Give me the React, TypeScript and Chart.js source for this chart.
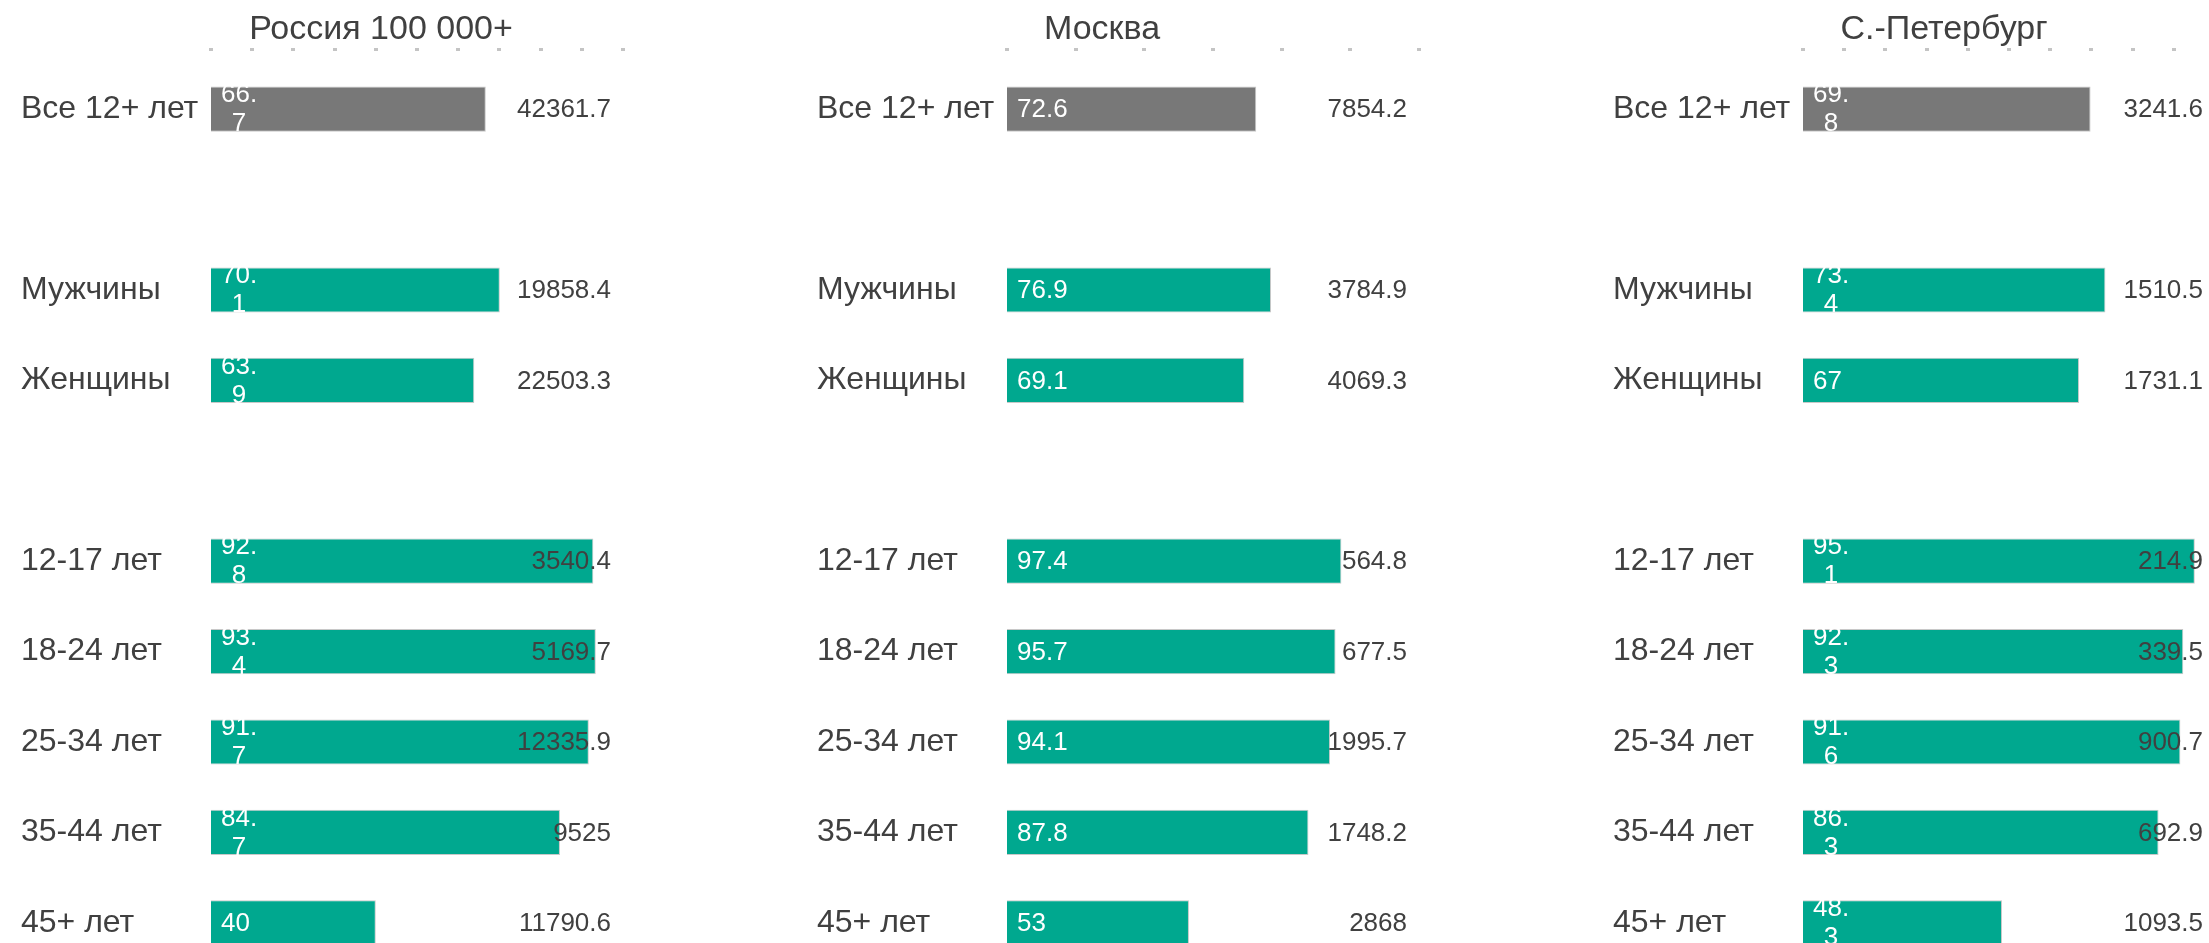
import React, { useEffect, useRef } from "react";
import { Chart, registerables } from "chart.js";

Chart.register(...registerables);

const categories = [
  "Все 12+ лет",
  "",
  "Мужчины",
  "Женщины",
  "",
  "12-17 лет",
  "18-24 лет",
  "25-34 лет",
  "35-44 лет",
  "45+ лет",
];

const panelTitles = ["Россия 100 000+", "Москва", "С.-Петербург"];

const russiaShare = [66.7, null, 70.1, 63.9, null, 92.8, 93.4, 91.7, 84.7, 40];
const russiaVolume = [42361.7, null, 19858.4, 22503.3, null, 3540.4, 5169.7, 12335.9, 9525, 11790.6];

const moscowShare = [72.6, null, 76.9, 69.1, null, 97.4, 95.7, 94.1, 87.8, 53];
const moscowVolume = [7854.2, null, 3784.9, 4069.3, null, 564.8, 677.5, 1995.7, 1748.2, 2868];

const spbShare = [69.8, null, 73.4, 67, null, 95.1, 92.3, 91.6, 86.3, 48.3];
const spbVolume = [3241.6, null, 1510.5, 1731.1, null, 214.9, 339.5, 900.7, 692.9, 1093.5];

const axisMax = [100, 120, 100];
const axisStep = [10, 20, 10];

const TEXT = "#404040";
const GRAY = "#787878";
const TEAL = "#00A88F";
const FONT = '"Liberation Sans", Arial, sans-serif';

const PANEL_W = 796;
const CANVAS_H = 1000;

type PanelProps = {
  title: string;
  share: (number | null)[];
  volume: (number | null)[];
  max: number;
  step: number;
  wrapWidth: number;
  titleX: number;
  left: number;
};

const labelPlugin = {
  id: "panelLabels",
  afterDatasetsDraw(chart: any, _args: any, opts: any) {
    const ctx = chart.ctx as CanvasRenderingContext2D;
    const xs = chart.scales.x;
    const { top, right } = chart.chartArea;
    ctx.save();
    // axis tick dots
    ctx.fillStyle = "#c4c4c4";
    for (let v = 0; v <= opts.max + 1e-9; v += opts.step) {
      const px = xs.getPixelForValue(v);
      ctx.fillRect(Math.round(px) - 2, top - 16, 4, 3);
    }
    // title
    ctx.font = `34px ${FONT}`;
    ctx.fillStyle = TEXT;
    ctx.textAlign = "center";
    ctx.textBaseline = "middle";
    ctx.fillText(opts.title, opts.titleX, 30);

    const meta = chart.getDatasetMeta(0);
    const x0 = xs.getPixelForValue(0);
    meta.data.forEach((bar: any, i: number) => {
      const s = opts.share[i];
      const vol = opts.volume[i];
      if (s == null) return;
      const cy = bar.y;
      // volume label on the right
      ctx.font = `26px ${FONT}`;
      ctx.fillStyle = TEXT;
      ctx.textAlign = "right";
      ctx.textBaseline = "middle";
      if (vol != null) ctx.fillText(String(vol), right - 12, cy + 1);
      // share label inside bar
      ctx.fillStyle = "#ffffff";
      const text = String(s);
      const bx = x0 + 10;
      if (ctx.measureText(text).width <= opts.wrapWidth) {
        ctx.textAlign = "left";
        ctx.fillText(text, bx, cy + 1);
      } else {
        let k = text.length - 1;
        while (k > 1 && ctx.measureText(text.slice(0, k)).width > opts.wrapWidth) k--;
        const lines = [text.slice(0, k), text.slice(k)];
        const bw = Math.max(...lines.map((l) => ctx.measureText(l).width));
        const cx = bx + bw / 2;
        ctx.textAlign = "center";
        ctx.fillText(lines[0], cx, cy - 14);
        ctx.fillText(lines[1], cx, cy + 15);
      }
    });
    ctx.restore();
  },
};

function Panel(p: PanelProps) {
  const ref = useRef<HTMLCanvasElement | null>(null);
  useEffect(() => {
    if (!ref.current) return;
    const colors = categories.map((_, i) => (i === 0 ? GRAY : TEAL));
    const chart = new Chart(ref.current, {
      type: "bar",
      data: {
        labels: categories,
        datasets: [
          {
            data: p.share as any,
            backgroundColor: colors,
            borderColor: "#c8c8c8",
            borderWidth: 1,
            barPercentage: 0.5,
            categoryPercentage: 1,
          },
        ],
      },
      options: {
        indexAxis: "y",
        responsive: false,
        animation: false,
        layout: {
          padding: { left: 21, top: 64, right: PANEL_W - 623, bottom: CANVAS_H - 968 },
        },
        plugins: {
          legend: { display: false },
          tooltip: { enabled: false },
          title: { display: false },
          panelLabels: {
            title: p.title,
            share: p.share,
            volume: p.volume,
            max: p.max,
            step: p.step,
            wrapWidth: p.wrapWidth,
            titleX: p.titleX,
          },
        } as any,
        scales: {
          x: {
            display: false,
            min: 0,
            max: p.max,
          },
          y: {
            grid: { display: false },
            border: { display: false },
            afterFit: (scale: any) => {
              scale.width = 190;
            },
            ticks: {
              crossAlign: "far",
              padding: 0,
              autoSkip: false,
              color: TEXT,
              font: { family: FONT, size: 32 },
            },
          },
        },
      },
      plugins: [labelPlugin],
    });
    return () => chart.destroy();
  }, []);
  return (
    <canvas
      ref={ref}
      width={PANEL_W}
      height={CANVAS_H}
      style={{ position: "absolute", left: p.left, top: 0, width: PANEL_W, height: CANVAS_H }}
    />
  );
}

export default function App() {
  return (
    <div
      style={{
        position: "absolute",
        left: 0,
        top: 0,
        width: 2209,
        height: 943,
        overflow: "hidden",
        background: "#ffffff",
      }}
    >
      <Panel title={panelTitles[0]} share={russiaShare} volume={russiaVolume} max={axisMax[0]} step={axisStep[0]} wrapWidth={40} titleX={381} left={0} />
      <Panel title={panelTitles[1]} share={moscowShare} volume={moscowVolume} max={axisMax[1]} step={axisStep[1]} wrapWidth={1000} titleX={306} left={796} />
      <Panel title={panelTitles[2]} share={spbShare} volume={spbVolume} max={axisMax[2]} step={axisStep[2]} wrapWidth={40} titleX={352} left={1592} />
    </div>
  );
}
